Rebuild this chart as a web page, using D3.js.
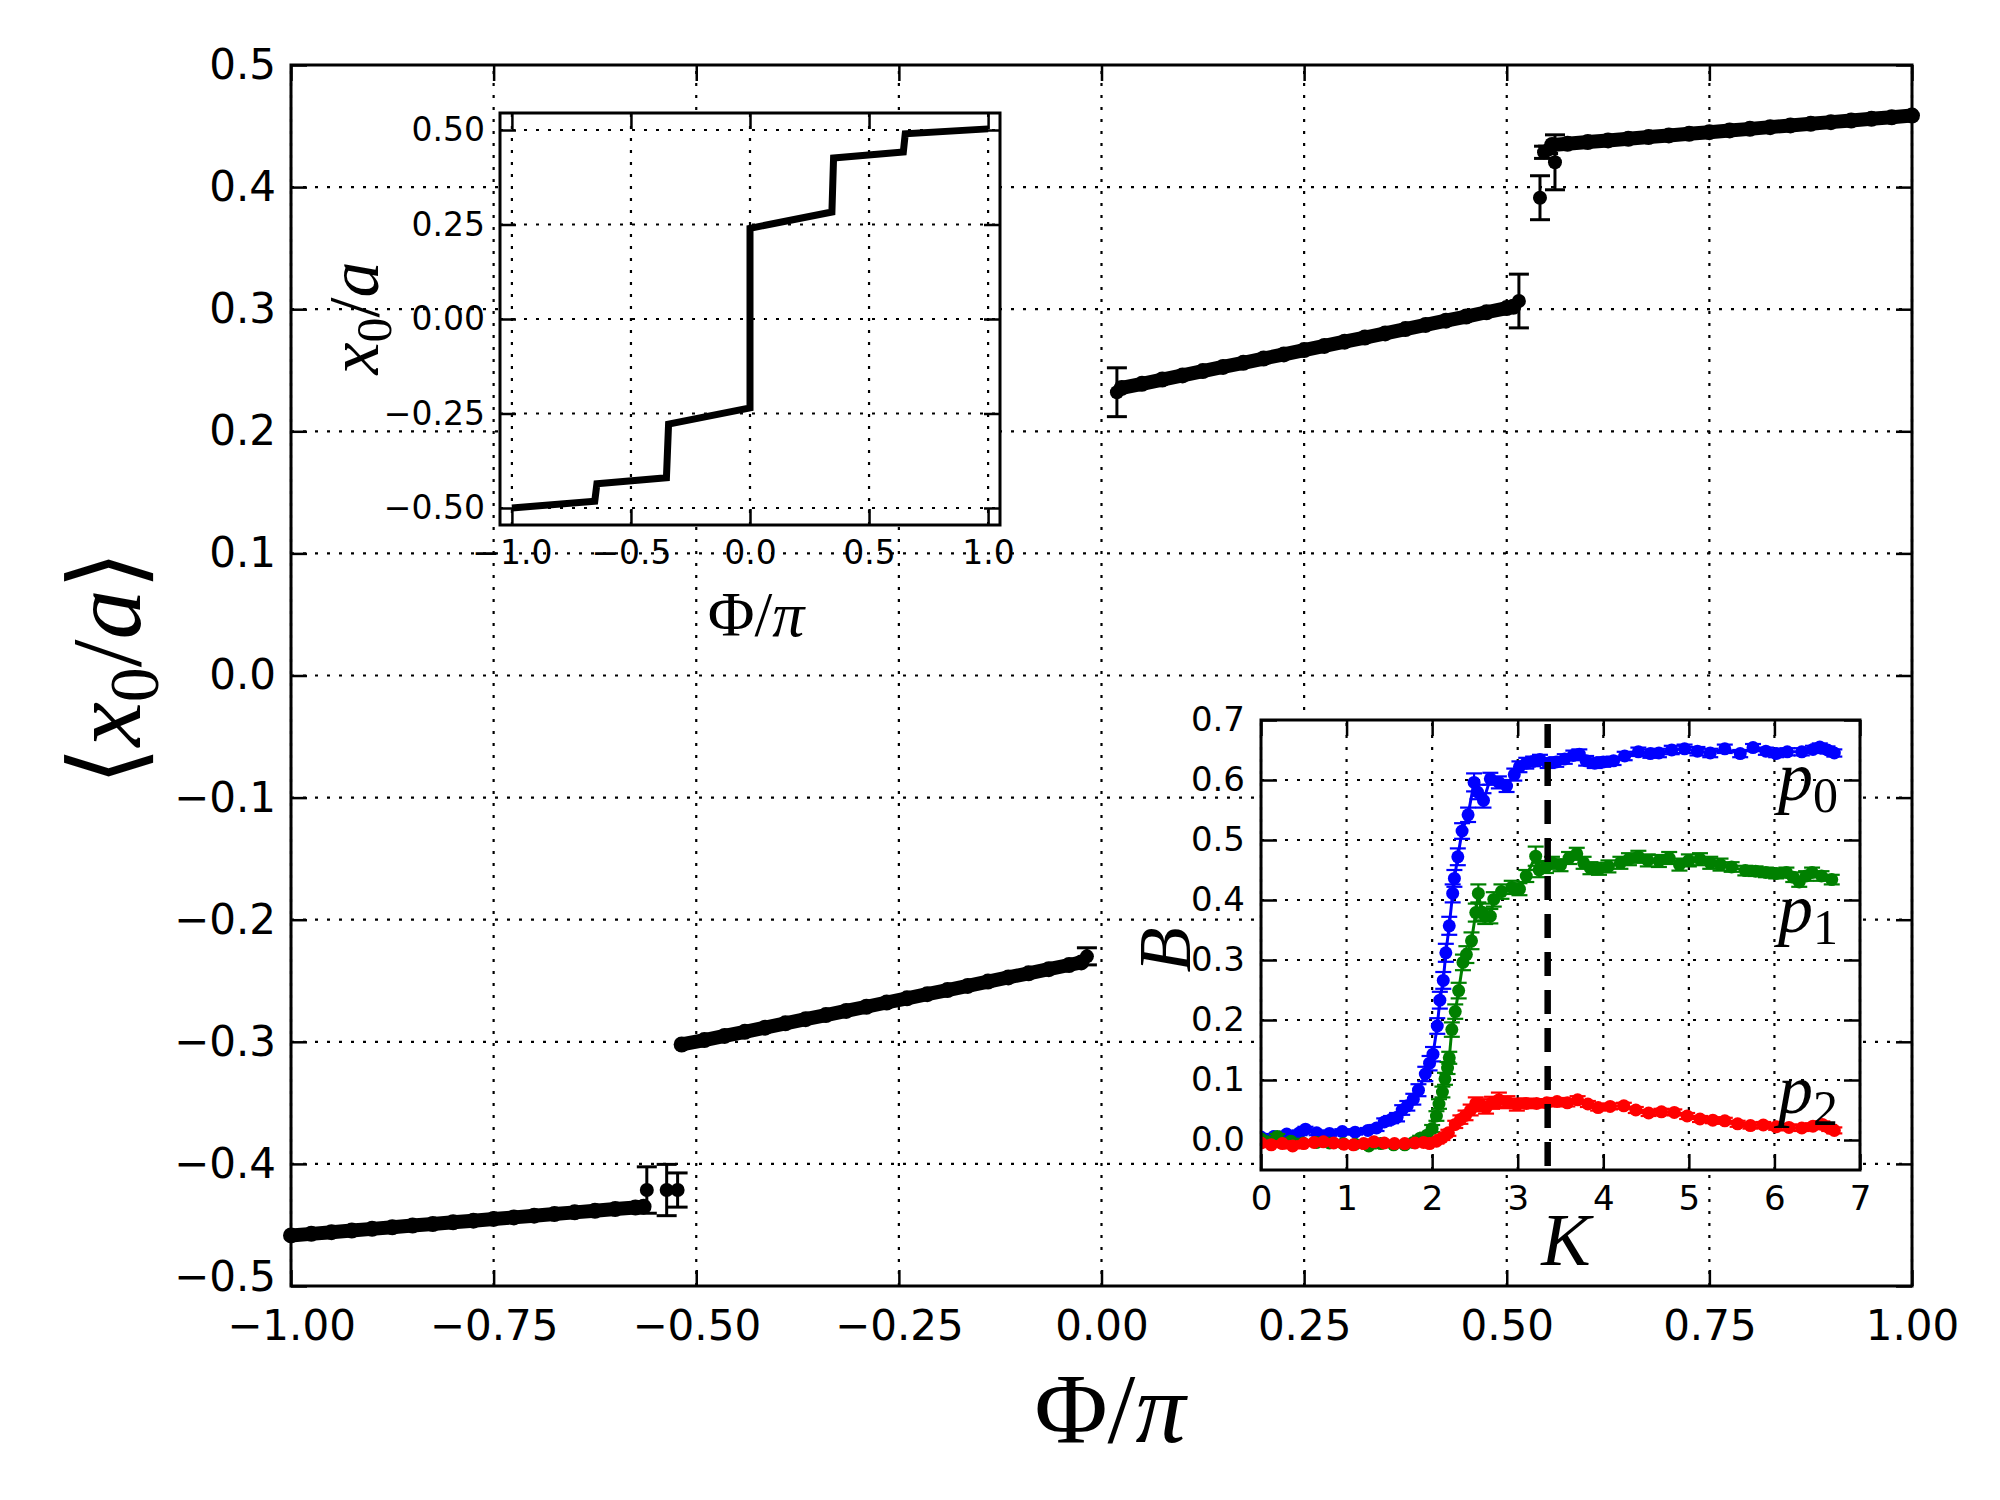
<!DOCTYPE html>
<html><head><meta charset="utf-8">
<script src="https://cdn.jsdelivr.net/npm/d3@7/dist/d3.min.js"></script>
<style>body{margin:0;background:#fff}</style>
</head><body>
<svg id="c" width="2000" height="1500" xmlns="http://www.w3.org/2000/svg"></svg>
<script>
// ---------------- DATA ----------------
// main panel ticks
const mainXTicks = [-1.0, -0.75, -0.5, -0.25, 0.0, 0.25, 0.5, 0.75, 1.0];
const mainYTicks = [-0.5, -0.4, -0.3, -0.2, -0.1, 0.0, 0.1, 0.2, 0.3, 0.4, 0.5];
// main panel: <x0/a> vs Phi/pi, four branches [phi/pi, <x0/a>]
const branch1 = [[-1.000,-0.4586],[-0.975,-0.4573],[-0.950,-0.4559],[-0.925,-0.4546],[-0.900,-0.4532],[-0.875,-0.4519],[-0.850,-0.4505],[-0.825,-0.4492],[-0.800,-0.4478],[-0.775,-0.4465],[-0.750,-0.4451],[-0.725,-0.4438],[-0.700,-0.4424],[-0.675,-0.4411],[-0.650,-0.4397],[-0.625,-0.4384],[-0.600,-0.4370],[-0.575,-0.4357],[-0.565,-0.4350]];
const branch2 = [[-0.518,-0.3022],[-0.490,-0.2986],[-0.465,-0.2952],[-0.440,-0.2918],[-0.415,-0.2884],[-0.390,-0.2849],[-0.365,-0.2815],[-0.340,-0.2781],[-0.315,-0.2747],[-0.290,-0.2713],[-0.265,-0.2678],[-0.240,-0.2644],[-0.215,-0.2610],[-0.190,-0.2576],[-0.165,-0.2542],[-0.140,-0.2507],[-0.115,-0.2473],[-0.090,-0.2439],[-0.065,-0.2405],[-0.040,-0.2371],[-0.025,-0.2350]];
const branch3 = [[0.025,0.2355],[0.050,0.2389],[0.075,0.2424],[0.100,0.2458],[0.125,0.2493],[0.150,0.2527],[0.175,0.2561],[0.200,0.2596],[0.225,0.2630],[0.250,0.2665],[0.275,0.2699],[0.300,0.2734],[0.325,0.2768],[0.350,0.2802],[0.375,0.2837],[0.400,0.2871],[0.425,0.2906],[0.450,0.2940],[0.475,0.2975],[0.500,0.3009],[0.508,0.3020]];
const branch4 = [[0.556,0.4345],[0.575,0.4355],[0.600,0.4369],[0.625,0.4382],[0.650,0.4396],[0.675,0.4410],[0.700,0.4423],[0.725,0.4437],[0.750,0.4450],[0.775,0.4464],[0.800,0.4477],[0.825,0.4491],[0.850,0.4505],[0.875,0.4518],[0.900,0.4532],[0.925,0.4545],[0.950,0.4559],[0.975,0.4572],[1.000,0.4586]];
// isolated points with error bars [phi/pi, <x0/a>, err]
const errPoints = [[-0.561,-0.4214,0.019],[-0.5365,-0.4214,0.021],[-0.523,-0.4214,0.014],[-0.018,-0.230,0.007],[0.019,0.232,0.020],[0.515,0.3067,0.022],[0.541,0.3913,0.018],[0.546,0.4285,0.005],[0.551,0.4305,0.003],[0.5595,0.4203,0.0225]];

// inset 1: x0/a vs Phi/pi
const in1XTicks = [-1.0, -0.5, 0.0, 0.5, 1.0];
const in1YTicks = [-0.50, -0.25, 0.00, 0.25, 0.50];
const in1Phi = [-1.0, -0.652, -0.643, -0.351, -0.342, 0.0, 0.0, 0.344, 0.351, 0.644, 0.652, 1.0];
const in1X0  = [-0.500, -0.482, -0.436, -0.420, -0.278, -0.235, 0.240, 0.283, 0.426, 0.442, 0.490, 0.503];

// inset 2: B vs K for p0, p1, p2
const in2XTicks = [0, 1, 2, 3, 4, 5, 6, 7];
const in2YTicks = [0.0, 0.1, 0.2, 0.3, 0.4, 0.5, 0.6, 0.7];
const kCritical = 3.35;
const p0K = [0.00,0.15,0.30,0.45,0.52,0.65,0.80,0.95,1.10,1.25,1.35,1.44,1.52,1.59,1.65,1.71,1.78,1.84,1.92,1.97,2.01,2.06,2.09,2.13,2.16,2.20,2.24,2.26,2.30,2.35,2.42,2.49,2.53,2.60,2.68,2.78,2.87,2.96,3.02,3.10,3.18,3.26,3.35,3.45,3.55,3.65,3.72,3.80,3.90,4.00,4.12,4.25,4.41,4.55,4.65,4.80,4.95,5.10,5.25,5.42,5.60,5.75,5.90,6.02,6.15,6.32,6.45,6.53,6.62,6.70];
const p0B = [0.005,0.006,0.010,0.012,0.018,0.012,0.011,0.014,0.013,0.016,0.020,0.030,0.034,0.038,0.050,0.057,0.068,0.083,0.110,0.128,0.143,0.190,0.233,0.266,0.312,0.357,0.411,0.436,0.472,0.515,0.542,0.596,0.580,0.566,0.602,0.596,0.590,0.609,0.622,0.628,0.631,0.634,0.628,0.630,0.635,0.641,0.643,0.632,0.628,0.630,0.632,0.640,0.647,0.644,0.645,0.650,0.652,0.648,0.645,0.652,0.644,0.654,0.648,0.644,0.647,0.647,0.651,0.655,0.650,0.645];
const p0E = [0.004,0.004,0.004,0.004,0.004,0.004,0.004,0.004,0.004,0.004,0.005,0.006,0.006,0.007,0.008,0.008,0.009,0.010,0.012,0.012,0.012,0.013,0.014,0.014,0.015,0.015,0.015,0.014,0.014,0.013,0.012,0.015,0.012,0.012,0.010,0.010,0.010,0.010,0.009,0.009,0.008,0.008,0.008,0.008,0.008,0.008,0.008,0.008,0.008,0.008,0.007,0.007,0.007,0.007,0.007,0.007,0.007,0.007,0.007,0.007,0.006,0.006,0.006,0.006,0.006,0.006,0.006,0.006,0.006,0.006];
const p1K = [0.00,0.19,0.35,0.49,0.65,0.80,0.96,1.10,1.26,1.40,1.55,1.68,1.78,1.86,1.94,2.00,2.05,2.08,2.12,2.15,2.18,2.20,2.23,2.27,2.31,2.36,2.40,2.46,2.51,2.54,2.58,2.62,2.68,2.72,2.81,2.93,3.02,3.10,3.21,3.25,3.33,3.40,3.50,3.60,3.69,3.77,3.85,3.95,4.06,4.20,4.30,4.41,4.52,4.65,4.77,4.89,5.00,5.13,5.25,5.37,5.50,5.66,5.78,5.90,6.02,6.14,6.22,6.29,6.37,6.44,6.55,6.67];
const p1B = [0.002,0.006,-0.002,-0.005,-0.004,-0.005,-0.006,-0.007,-0.010,-0.006,-0.008,-0.008,-0.004,0.003,0.008,0.019,0.040,0.060,0.080,0.102,0.120,0.137,0.184,0.214,0.249,0.296,0.309,0.332,0.379,0.411,0.380,0.373,0.373,0.401,0.414,0.421,0.418,0.440,0.473,0.450,0.455,0.462,0.458,0.470,0.477,0.462,0.453,0.452,0.456,0.462,0.468,0.472,0.466,0.465,0.470,0.459,0.466,0.468,0.462,0.459,0.455,0.449,0.448,0.446,0.444,0.446,0.438,0.430,0.440,0.446,0.440,0.434];
const p1E = [0.004,0.004,0.004,0.004,0.004,0.004,0.004,0.004,0.004,0.004,0.004,0.004,0.004,0.004,0.004,0.006,0.008,0.008,0.009,0.010,0.010,0.010,0.012,0.012,0.013,0.013,0.014,0.014,0.015,0.015,0.014,0.013,0.012,0.012,0.012,0.011,0.010,0.010,0.016,0.012,0.010,0.010,0.010,0.010,0.010,0.010,0.010,0.010,0.010,0.010,0.010,0.010,0.010,0.010,0.010,0.010,0.010,0.010,0.010,0.010,0.008,0.008,0.008,0.008,0.008,0.008,0.008,0.008,0.008,0.008,0.008,0.008];
const p2K = [0.00,0.12,0.25,0.37,0.50,0.62,0.73,0.85,0.97,1.08,1.20,1.32,1.44,1.56,1.68,1.80,1.90,1.97,2.05,2.12,2.19,2.27,2.33,2.39,2.45,2.51,2.57,2.63,2.70,2.78,2.88,2.99,3.10,3.22,3.34,3.46,3.58,3.70,3.82,3.94,4.08,4.24,4.38,4.53,4.68,4.83,4.98,5.13,5.28,5.42,5.57,5.72,5.87,6.02,6.17,6.32,6.45,6.56,6.64,6.70];
const p2B = [-0.005,-0.008,-0.006,-0.010,-0.006,-0.004,-0.003,-0.005,-0.007,-0.008,-0.006,-0.003,-0.005,-0.006,-0.006,-0.005,-0.004,-0.006,-0.002,0.004,0.012,0.026,0.034,0.041,0.050,0.061,0.058,0.054,0.062,0.067,0.063,0.059,0.061,0.061,0.062,0.064,0.062,0.067,0.060,0.054,0.056,0.057,0.050,0.045,0.047,0.046,0.040,0.035,0.033,0.032,0.027,0.024,0.025,0.022,0.021,0.020,0.023,0.026,0.020,0.016];
const p2E = [0.004,0.004,0.004,0.004,0.004,0.004,0.004,0.004,0.004,0.004,0.004,0.004,0.004,0.004,0.004,0.004,0.004,0.004,0.004,0.004,0.005,0.006,0.007,0.008,0.009,0.010,0.010,0.010,0.010,0.012,0.010,0.010,0.008,0.007,0.006,0.006,0.006,0.006,0.005,0.005,0.005,0.005,0.005,0.005,0.005,0.005,0.005,0.005,0.005,0.005,0.005,0.005,0.005,0.005,0.005,0.005,0.005,0.005,0.005,0.005];
const seriesColors = ["#0000ff", "#008000", "#ff0000"];
const seriesNames = ["0", "1", "2"];

// ---------------- DRAWING ----------------
const svg = d3.select("#c");
svg.append("rect").attr("width", 2000).attr("height", 1500).attr("fill", "#fff");
const SANS = "DejaVu Sans";
const SERIF = "'Liberation Serif', 'DejaVu Serif', serif";

function frame(g, x, y, xt, yt, fx, fy, fs, padX, padY, bg) {
  const [xa, xb] = x.range(), [ya, yb] = y.range(); // ya bottom, yb top
  if (bg) g.append("rect").attr("x", xa).attr("y", yb).attr("width", xb - xa).attr("height", ya - yb).attr("fill", "#fff");
  const grid = g.append("g").attr("stroke", "#000").attr("stroke-width", 2.2).attr("stroke-dasharray", "3,9");
  grid.selectAll("line.gx").data(xt).join("line").attr("class", "gx")
    .attr("x1", d => x(d)).attr("x2", d => x(d)).attr("y1", ya).attr("y2", yb);
  grid.selectAll("line.gy").data(yt).join("line").attr("class", "gy")
    .attr("y1", d => y(d)).attr("y2", d => y(d)).attr("x1", xa).attr("x2", xb);
  const TL = 16;
  const style = s => { s.select(".domain").remove(); s.selectAll(".tick line").attr("stroke-width", 2.5);
    s.attr("font-family", SANS).attr("font-size", fs); s.selectAll("text").attr("fill", "#000"); };
  g.append("g").attr("transform", `translate(0,${ya})`)
    .call(d3.axisBottom(x).tickValues(xt).tickFormat(fx).tickSizeInner(-TL).tickSizeOuter(0).tickPadding(padX)).call(style);
  g.append("g").attr("transform", `translate(0,${yb})`)
    .call(d3.axisTop(x).tickValues(xt).tickFormat(() => "").tickSizeInner(-TL).tickSizeOuter(0)).call(style);
  const left = g.append("g").attr("transform", `translate(${xa},0)`)
    .call(d3.axisLeft(y).tickValues(yt).tickFormat(fy).tickSizeInner(-TL).tickSizeOuter(0).tickPadding(padY)).call(style);
  g.append("g").attr("transform", `translate(${xb},0)`)
    .call(d3.axisRight(y).tickValues(yt).tickFormat(() => "").tickSizeInner(-TL).tickSizeOuter(0)).call(style);
  return left;
}
function spines(g, x, y, w) {
  const [xa, xb] = x.range(), [ya, yb] = y.range();
  g.append("rect").attr("x", xa).attr("y", yb).attr("width", xb - xa).attr("height", ya - yb)
    .attr("fill", "none").attr("stroke", "#000").attr("stroke-width", w);
}

// ---- main panel ----
const mx = d3.scaleLinear().domain([-1, 1]).range([291, 1912]);
const my = d3.scaleLinear().domain([-0.5, 0.5]).range([1286, 65]);
const gm = svg.append("g");
const mainLeft = frame(gm, mx, my, mainXTicks, mainYTicks, d3.format(".2f"), d3.format(".1f"), 42, 24, 15, false);
// lowest y label sits a touch higher so it clears the first x label
mainLeft.selectAll(".tick").filter(d => d === mainYTicks[0]).select("text").attr("dy", "0.1em");

const line = d3.line().x(d => mx(d[0])).y(d => my(d[1]));
const dataG = gm.append("g");
[branch1, branch2, branch3, branch4].forEach(b => {
  dataG.append("path").attr("d", line(b)).attr("fill", "none").attr("stroke", "#000")
    .attr("stroke-width", 14).attr("stroke-linecap", "round");
  dataG.selectAll(null).data(b).join("circle").attr("cx", d => mx(d[0])).attr("cy", d => my(d[1])).attr("r", 8).attr("fill", "#000");
});
const eg = dataG.append("g").attr("stroke", "#000").attr("stroke-width", 3);
errPoints.forEach(([px, py, e]) => {
  eg.append("line").attr("x1", mx(px)).attr("x2", mx(px)).attr("y1", my(py - e)).attr("y2", my(py + e));
  eg.append("line").attr("x1", mx(px) - 10).attr("x2", mx(px) + 10).attr("y1", my(py - e)).attr("y2", my(py - e));
  eg.append("line").attr("x1", mx(px) - 10).attr("x2", mx(px) + 10).attr("y1", my(py + e)).attr("y2", my(py + e));
  dataG.append("circle").attr("cx", mx(px)).attr("cy", my(py)).attr("r", 7).attr("fill", "#000");
});
spines(gm, mx, my, 3);

// main labels
const xl = svg.append("text").attr("x", 1110).attr("y", 1442).attr("text-anchor", "middle")
  .attr("font-family", SERIF).attr("font-size", 100);
xl.append("tspan").text("Φ/");
xl.append("tspan").attr("font-style", "italic").text("π");
const yl = svg.append("text").attr("transform", "translate(140,668) rotate(-90)").attr("text-anchor", "middle")
  .attr("font-family", SERIF).attr("font-size", 100);
yl.append("tspan").text("⟨");
yl.append("tspan").attr("font-style", "italic").text("x");
yl.append("tspan").attr("font-size", 70).attr("dy", 18).text("0");
yl.append("tspan").attr("dy", -18).text("/");
yl.append("tspan").attr("font-style", "italic").text("a");
yl.append("tspan").text("⟩");

// ---- inset 1 ----
const ax = d3.scaleLinear().domain([-1.05, 1.05]).range([500, 1000]);
const ay = d3.scaleLinear().domain([-0.545, 0.545]).range([525, 113]);
const g1 = svg.append("g");
frame(g1, ax, ay, in1XTicks, in1YTicks, d3.format(".1f"), d3.format(".2f"), 33, 16, 15, true);
g1.append("path").datum(d3.range(in1Phi.length))
  .attr("d", d3.line().x(i => ax(in1Phi[i])).y(i => ay(in1X0[i])))
  .attr("fill", "none").attr("stroke", "#000").attr("stroke-width", 7).attr("stroke-linejoin", "miter");
spines(g1, ax, ay, 3);
const l1x = svg.append("text").attr("x", 756).attr("y", 636).attr("text-anchor", "middle")
  .attr("font-family", SERIF).attr("font-size", 64);
l1x.append("tspan").text("Φ/");
l1x.append("tspan").attr("font-style", "italic").text("π");
const l1y = svg.append("text").attr("transform", "translate(378,318) rotate(-90)").attr("text-anchor", "middle")
  .attr("font-family", SERIF).attr("font-size", 72);
l1y.append("tspan").attr("font-style", "italic").text("x");
l1y.append("tspan").attr("font-size", 50).attr("dy", 13).text("0");
l1y.append("tspan").attr("dy", -13).text("/");
l1y.append("tspan").attr("font-style", "italic").text("a");

// ---- inset 2 ----
const bx = d3.scaleLinear().domain([0, 7]).range([1261, 1860]);
const by = d3.scaleLinear().domain([-0.05, 0.7]).range([1170, 720]);
const g2 = svg.append("g");
frame(g2, bx, by, in2XTicks, in2YTicks, d3.format("d"), d3.format(".1f"), 34, 16, 16, true);
const series = [[p0K, p0B, p0E], [p1K, p1B, p1E], [p2K, p2B, p2E]];
svg.append("clipPath").attr("id", "clip2").append("rect")
  .attr("x", 1261).attr("y", 720).attr("width", 599).attr("height", 450);
const sg = g2.append("g").attr("clip-path", "url(#clip2)");
series.forEach(([K, B, E], si) => {
  const col = seriesColors[si];
  const idx = d3.range(K.length);
  const s = sg.append("g");
  s.append("path").datum(idx).attr("d", d3.line().x(i => bx(K[i])).y(i => by(B[i])))
    .attr("fill", "none").attr("stroke", col).attr("stroke-width", 3);
  const e = s.append("g").attr("stroke", col).attr("stroke-width", 2.2);
  idx.forEach(i => {
    const cx = bx(K[i]);
    e.append("line").attr("x1", cx).attr("x2", cx).attr("y1", by(B[i] - E[i])).attr("y2", by(B[i] + E[i]));
    e.append("line").attr("x1", cx - 8).attr("x2", cx + 8).attr("y1", by(B[i] - E[i])).attr("y2", by(B[i] - E[i]));
    e.append("line").attr("x1", cx - 8).attr("x2", cx + 8).attr("y1", by(B[i] + E[i])).attr("y2", by(B[i] + E[i]));
  });
  s.selectAll(null).data(idx).join("circle").attr("cx", i => bx(K[i])).attr("cy", i => by(B[i])).attr("r", 6.5).attr("fill", col);
});
g2.append("line").attr("x1", bx(kCritical)).attr("x2", bx(kCritical)).attr("y1", by(0.7) + 4).attr("y2", by(-0.05))
  .attr("stroke", "#000").attr("stroke-width", 6.5).attr("stroke-dasharray", "24,14");
spines(g2, bx, by, 3);
const labY = [800, 932, 1113];
seriesNames.forEach((n, i) => {
  const t = svg.append("text").attr("x", 1778).attr("y", labY[i]).attr("font-family", SERIF).attr("font-size", 70);
  t.append("tspan").attr("font-style", "italic").text("p");
  t.append("tspan").attr("font-size", 50).attr("dy", 12).text(n);
});
svg.append("text").attr("x", 1566).attr("y", 1265).attr("text-anchor", "middle")
  .attr("font-family", SERIF).attr("font-size", 74).attr("font-style", "italic").text("K");
svg.append("text").attr("transform", "translate(1190,950) rotate(-90)").attr("text-anchor", "middle")
  .attr("font-family", SERIF).attr("font-size", 74).attr("font-style", "italic").text("B");
</script>
</body></html>
